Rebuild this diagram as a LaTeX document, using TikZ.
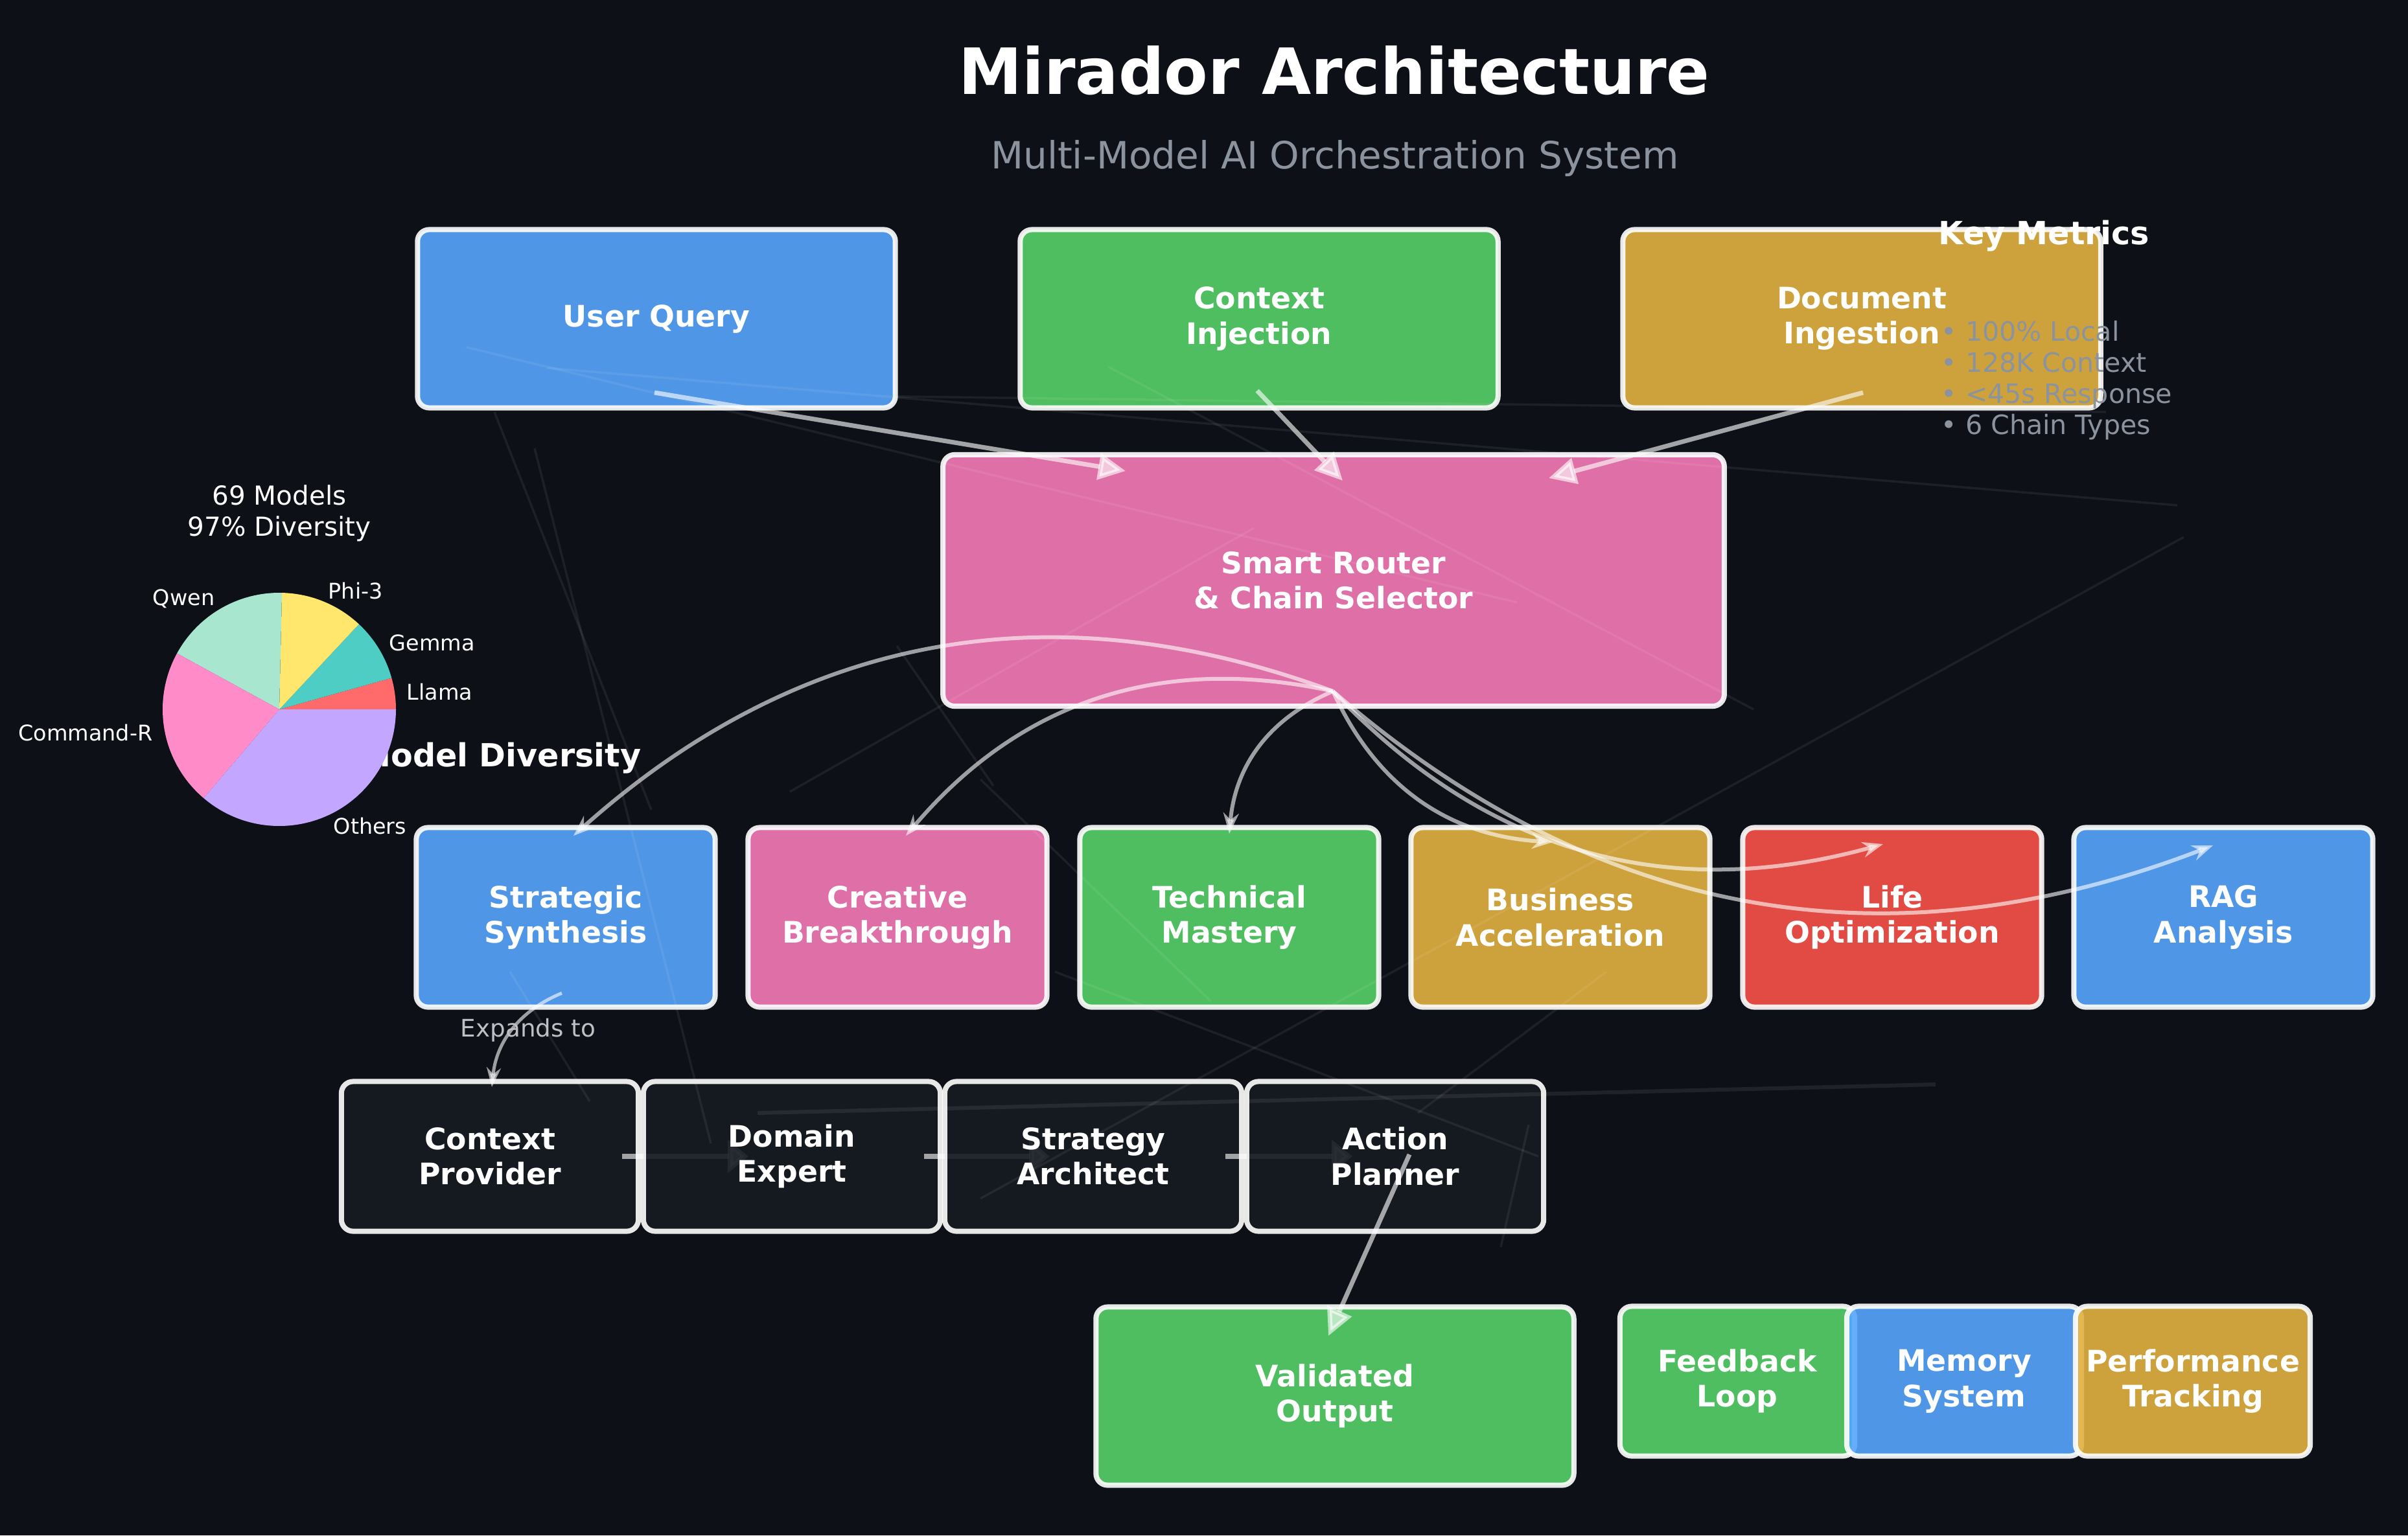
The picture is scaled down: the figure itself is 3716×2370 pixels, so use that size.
\documentclass[tikz,border=0pt]{standalone}
\usepackage{fontspec}
\setmainfont{DejaVu Sans}
\usetikzlibrary{arrows.meta}
\definecolor{bgc}{RGB}{13,16,23}
\definecolor{cblue}{RGB}{87,166,253}
\definecolor{cgreen}{RGB}{87,210,104}
\definecolor{cgold}{RGB}{226,178,66}
\definecolor{cpink}{RGB}{246,122,183}
\definecolor{cred}{RGB}{250,82,73}
\definecolor{cdark}{RGB}{22,27,34}
\definecolor{subgray}{RGB}{139,148,158}
\definecolor{expgray}{RGB}{190,192,196}
\definecolor{pllama}{RGB}{255,107,107}
\definecolor{pgemma}{RGB}{78,205,196}
\definecolor{pphi}{RGB}{255,230,109}
\definecolor{pqwen}{RGB}{168,230,207}
\definecolor{pcmd}{RGB}{255,140,200}
\definecolor{pother}{RGB}{195,166,255}
\newcommand\boxfont{\fontsize{13}{15.5}\selectfont\bfseries}
\begin{document}
\begin{tikzpicture}[x=0.01cm,y=-0.01cm,
  box/.style={draw=white, draw opacity=0.9, fill opacity=0.9, text opacity=1, line width=0.08cm, rounded corners=0.18cm, text=white, font=\boxfont, align=center, inner sep=0pt},
  bigbox/.style={box, minimum width=7.37cm, minimum height=2.75cm},
  chainbox/.style={box, minimum width=4.61cm, minimum height=2.77cm},
  darkbox/.style={box, fill=cdark, minimum width=4.58cm, minimum height=2.31cm},
  smallbox/.style={box, minimum width=3.62cm, minimum height=2.31cm},
  inarrow/.style={draw=white, opacity=0.62, line width=0.07cm, -{Triangle[length=0.42cm,width=0.4cm]}},
  chainarrow/.style={draw=white, opacity=0.6, line width=0.06cm, -{Stealth[length=0.32cm,width=0.24cm]}},
  exparrow/.style={draw=white, opacity=0.6, line width=0.05cm, -{Stealth[length=0.3cm,width=0.22cm]}},
  rowarrow/.style={draw=white, opacity=0.6, line width=0.08cm, -{Triangle[length=0.32cm,width=0.5cm]}},
  bgline/.style={draw=white, opacity=0.07, line width=0.035cm},
  pielabel/.style={text=white, font=\fontsize{9.5}{11}\selectfont, inner sep=0pt},
  metric/.style={text=subgray, font=\fontsize{11.7}{14}\selectfont, anchor=base west, inner sep=0pt},
]
\fill[bgc] (0,0) rectangle (3716,2370);
\useasboundingbox (0,0) rectangle (3716,2370);

% named end points of connectors
\coordinate (uqs) at (1010,606);
\coordinate (uqe) at (1737,727);
\coordinate (cis) at (1940,603);
\coordinate (cie) at (2072,742);
\coordinate (dis) at (2875,606);
\coordinate (die) at (2390,738);
\coordinate (rout) at (2057,1067);
\coordinate (t1) at (885,1290);
\coordinate (t2) at (1398,1290);
\coordinate (t3) at (1897,1287);
\coordinate (t4) at (2396,1300);
\coordinate (t5) at (2906,1303);
\coordinate (t6) at (3415,1305);
\coordinate (exs) at (867,1533);
\coordinate (exe) at (759,1678);
\coordinate (r1s) at (960,1785);
\coordinate (r1e) at (1155,1785);
\coordinate (r2s) at (1426,1785);
\coordinate (r2e) at (1620,1785);
\coordinate (r3s) at (1891,1785);
\coordinate (r3e) at (2087,1785);
\coordinate (aps) at (2175,1782);
\coordinate (ape) at (2050,2062);

% titles
\node[text=white, font=\fontsize{28}{34}\selectfont\bfseries, anchor=base, inner sep=0pt] (title) at (2059,146) {Mirador Architecture};
\node[text=subgray, font=\fontsize{16.5}{20}\selectfont, anchor=base, inner sep=0pt] (subtitle) at (2060,261) {Multi-Model AI Orchestration System};

% model diversity chart
\node[text=white, font=\fontsize{14}{17}\selectfont\bfseries, anchor=base east, inner sep=0pt] (mdtitle) at (990,1183) {Model Diversity};
\node[text=white, font=\fontsize{11.5}{14}\selectfont, anchor=base, inner sep=0pt] (pie1) at (431,779) {69 Models};
\node[text=white, font=\fontsize{11.5}{14}\selectfont, anchor=base, inner sep=0pt] (pie2) at (431,827) {97\% Diversity};
\coordinate (pc) at (431,1095);
\fill[pllama] (pc) -- ++(0:180) arc[start angle=0, end angle=-15.65, radius=180] -- cycle;
\fill[pgemma] (pc) -- ++(-15.65:180) arc[start angle=-15.65, end angle=-46.96, radius=180] -- cycle;
\fill[pphi] (pc) -- ++(-46.96:180) arc[start angle=-46.96, end angle=-88.70, radius=180] -- cycle;
\fill[pqwen] (pc) -- ++(-88.70:180) arc[start angle=-88.70, end angle=-151.30, radius=180] -- cycle;
\fill[pcmd] (pc) -- ++(-151.30:180) arc[start angle=-151.30, end angle=-229.57, radius=180] -- cycle;
\fill[pother] (pc) -- ++(-229.57:180) arc[start angle=-229.57, end angle=-360, radius=180] -- cycle;
\node[pielabel, anchor=west] (lllama) at (627,1068) {Llama};
\node[pielabel, anchor=west] (lgemma) at (600,992) {Gemma};
\node[pielabel, anchor=west] (lphi) at (506,912) {Phi-3};
\node[pielabel, anchor=east] (lqwen) at (332,924) {Qwen};
\node[pielabel, anchor=east] (lcmd) at (236,1131) {Command-R};
\node[pielabel, anchor=west] (lother) at (514,1275) {Others};

% top row
\node[bigbox, fill=cblue] (uq) at (1013,492) {User Query};
\node[bigbox, fill=cgreen] (ci) at (1943,492) {Context\\Injection};
\node[bigbox, fill=cgold] (di) at (2873,492) {Document\\Ingestion};

% router
\node[box, fill=cpink, minimum width=12.05cm, minimum height=3.88cm] (router) at (2058,896) {Smart Router\\\& Chain Selector};

% chain row
\node[chainbox, fill=cblue] (ss) at (873,1416) {Strategic\\Synthesis};
\node[chainbox, fill=cpink] (cb) at (1385,1416) {Creative\\Breakthrough};
\node[chainbox, fill=cgreen] (tm) at (1897,1416) {Technical\\Mastery};
\node[chainbox, fill=cgold] (ba) at (2408,1416) {Business\\Acceleration};
\node[chainbox, fill=cred] (lo) at (2920,1416) {Life\\Optimization};
\node[chainbox, fill=cblue] (rag) at (3431,1416) {RAG\\Analysis};

% expanded chain
\node[darkbox] (cp) at (756,1785) {Context\\Provider};
\draw[rowarrow] (r1s) -- (r1e);
\node[darkbox] (de) at (1222,1785) {Domain\\Expert};
\draw[rowarrow] (r2s) -- (r2e);
\node[darkbox] (sa) at (1687,1785) {Strategy\\Architect};
\draw[rowarrow] (r3s) -- (r3e);
\node[darkbox] (ap) at (2153,1785) {Action\\Planner};

% bottom row
\node[bigbox, fill=cgreen] (vo) at (2060,2155) {Validated\\Output};
\node[smallbox, fill=cgreen] (fl) at (2681,2132) {Feedback\\Loop};
\node[smallbox, fill=cblue] (ms) at (3031,2132) {Memory\\System};
\node[smallbox, fill=cgold] (pt) at (3384,2132) {Performance\\Tracking};

% faint background network lines
\draw[bgline] (720,536) -- (2341,930);
\draw[bgline] (844,568) -- (3360,780);
\draw[bgline] (1710,566) -- (2706,1095);
\draw[bgline] (763,636) -- (1005,1250);
\draw[bgline] (825,692) -- (1097,1765);
\draw[bgline] (787,1500) -- (910,1700);
\draw[bgline] (1219,1222) -- (1935,815);
\draw[bgline] (1384,997) -- (1533,1213);
\draw[bgline] (1513,1203) -- (1868,1545);
\draw[bgline] (1628,1500) -- (2374,1785);
\draw[bgline] (3370,829) -- (1513,1850);
\draw[bgline, opacity=0.08, line width=0.06cm] (1169,1718) -- (2987,1674);
\draw[bgline] (2359,1736) -- (2316,1925);
\draw[bgline] (2479,1500) -- (2188,1718);
\draw[bgline] (1385,612) -- (3250,636);

% input connectors
\draw[inarrow] (uqs) -- (uqe);
\draw[inarrow] (cis) -- (cie);
\draw[inarrow] (dis) -- (die);

% router to chains
\draw[chainarrow] (rout) to[bend right=31] (t1);
\draw[chainarrow] (rout) to[bend right=31] (t2);
\draw[chainarrow] (rout) to[bend right=31] (t3);
\draw[chainarrow] (rout) to[bend right=31] (t4);
\draw[chainarrow] (rout) to[bend right=31] (t5);
\draw[chainarrow] (rout) to[bend right=31] (t6);

% expands to
\draw[exparrow] (exs) to[bend right=31] (exe);
\node[text=expgray, font=\fontsize{10.6}{12}\selectfont, inner sep=0pt] (explabel) at (815,1590) {Expands to};

% action to output
\draw[inarrow] (aps) -- (ape);

% key metrics
\node[text=white, font=\fontsize{14}{17}\selectfont\bfseries, anchor=base west, inner sep=0pt] (kmtitle) at (2991,377) {Key Metrics};
\node[metric] (m1) at (2995,526) {• 100\% Local};
\node[metric] (m2) at (2995,574) {• 128K Context};
\node[metric] (m3) at (2995,622) {• <45s Response};
\node[metric] (m4) at (2995,670) {• 6 Chain Types};
\end{tikzpicture}
\end{document}
